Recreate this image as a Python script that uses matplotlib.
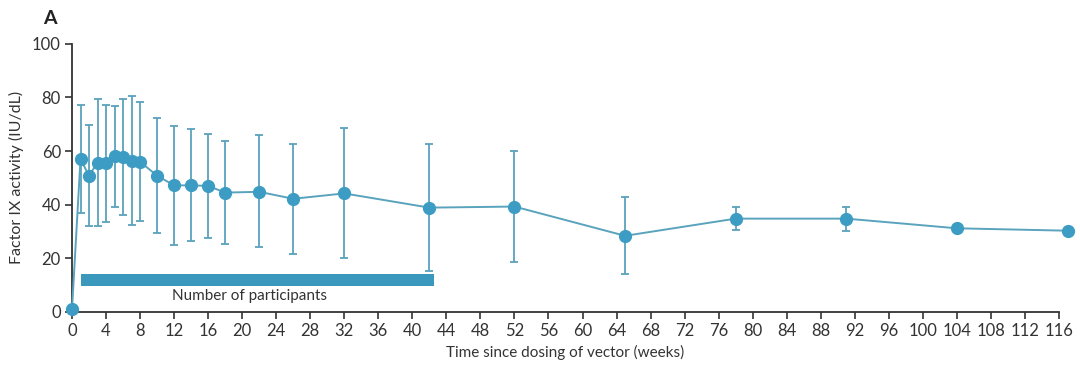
import matplotlib
matplotlib.use("Agg")
import matplotlib.pyplot as plt
import numpy as np

weeks = [0, 1, 2, 3, 4, 5, 6, 7, 8, 10, 12, 14, 16, 18, 22, 26, 32, 42, 52, 65, 78, 91, 104, 117]
mean = [1, 57, 50.8, 55.7, 55.4, 58, 57.8, 56.4, 56, 50.8, 47.2, 47.2, 47, 44.5, 44.8, 42.2, 44.2, 38.9, 39.3, 28.4, 34.8, 34.8, 31.2, 30.3]
upper = [1, 77, 69.6, 79.3, 77.3, 76.8, 79.4, 80.5, 78.1, 72.4, 69.4, 68.3, 66.3, 63.6, 65.8, 62.7, 68.7, 62.5, 59.9, 43, 39, 39.3, 31.2, 30.3]
lower = [1, 37, 31.9, 32, 33.7, 39, 36, 32.3, 33.9, 29.4, 24.8, 26.3, 27.6, 25.2, 24.2, 21.7, 20, 15.3, 18.5, 14, 30.6, 30.3, 31.2, 30.3]
has_err = [False] + [True] * 21 + [False, False]

bar_start, bar_end = 1, 42.5
bar_low, bar_high = 9.8, 14.2
xticks = list(range(0, 117, 4))
yticks = [0, 20, 40, 60, 80, 100]

line_col = "#5aa3bd"
mark_col = "#3d9cc3"
bar_col = "#3b98bd"
txt_col = "#333333"

plt.rcParams['font.family'] = ['Lato', 'DejaVu Sans']

fig = plt.figure(figsize=(10.8, 3.69), dpi=100)
ax = fig.add_axes([72/1080, 1-312/369, (1059-72)/1080, (312-43.7)/369])

w = np.array(weeks, dtype=float)
m = np.array(mean)
u = np.array(upper)
l = np.array(lower)
e = np.array(has_err)

ax.errorbar(w[e], m[e], yerr=[m[e]-l[e], u[e]-m[e]], fmt='none', ecolor=line_col,
            elinewidth=1.3, capsize=3, capthick=1.3, zorder=2, clip_on=False)
ax.plot(w, m, color=line_col, lw=1.4, zorder=3, clip_on=False)
ax.plot(w, m, 'o', color=mark_col, ms=8.5, zorder=4, clip_on=False)

ax.fill_between([bar_start, bar_end], bar_low, bar_high, color=bar_col, lw=0, zorder=1)
ax.text(20.9, 6, "Number of participants", ha='center', va='center', fontsize=11, color=txt_col)

ax.set_xlim(0, 116)
ax.set_ylim(0, 100)
ax.set_xticks(xticks)
ax.set_yticks(yticks)
for s in ['top', 'right']:
    ax.spines[s].set_visible(False)
for s in ['left', 'bottom']:
    ax.spines[s].set_color('#333333')
    ax.spines[s].set_linewidth(1.3)
ax.tick_params(axis='both', direction='out', length=5, width=1.2, color='#333333',
               labelsize=12, labelcolor=txt_col, pad=3)
ax.set_xlabel("Time since dosing of vector (weeks)", fontsize=11, color=txt_col, labelpad=4)
ax.set_ylabel("Factor IX activity (IU/dL)", fontsize=11.5, color=txt_col, labelpad=6)

fig.text(50/1080, 1-18/369, "A", fontsize=14, fontweight='bold', ha='center', va='center', color='#222222')

fig.savefig("out.png", dpi=100)
